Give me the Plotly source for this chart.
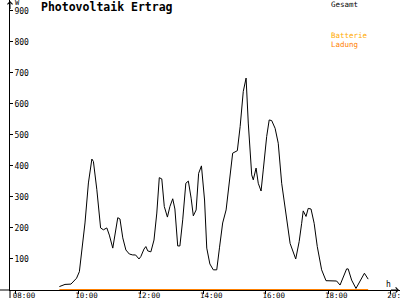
import plotly.graph_objects as go

# ---- data ----
times = [9.39, 9.57, 9.76, 9.94, 10.03, 10.10, 10.21, 10.32, 10.43, 10.48, 10.59, 10.71, 10.80, 10.91, 10.99,
         11.10, 11.18, 11.26, 11.33, 11.42, 11.52, 11.63, 11.74, 11.83, 11.94, 12.00, 12.10, 12.16, 12.22, 12.32,
         12.42, 12.51, 12.59, 12.67, 12.75, 12.85, 12.93, 13.02, 13.09, 13.18, 13.25, 13.34, 13.44, 13.52, 13.61,
         13.68, 13.77, 13.85, 13.94, 14.00, 14.04, 14.11, 14.21, 14.32, 14.43, 14.52, 14.62, 14.73, 14.83, 14.94,
         15.09, 15.18, 15.28, 15.37, 15.44, 15.55, 15.60, 15.69, 15.76, 15.85, 15.92, 16.03, 16.11, 16.19, 16.30,
         16.40, 16.51, 16.65, 16.78, 16.96, 17.07, 17.15, 17.20, 17.29, 17.36, 17.45, 17.55, 17.65, 17.79, 17.93,
         18.11, 18.27, 18.38, 18.48, 18.59, 18.64, 18.75, 18.89, 19.02, 19.16, 19.28]
gesamt = [11, 18, 19, 38, 59, 119, 216, 345, 422, 414, 323, 200, 194, 200, 177,
          135, 184, 233, 229, 168, 129, 116, 113, 113, 100, 108, 132, 140, 126, 123,
          161, 248, 362, 358, 269, 235, 269, 294, 261, 142, 142, 226, 344, 351, 296,
          239, 258, 376, 400, 345, 290, 135, 84, 65, 65, 138, 216, 258, 344, 441,
          449, 527, 640, 683, 538, 371, 355, 393, 344, 319, 387, 495, 548, 546, 521,
          473, 344, 237, 150, 100, 156, 215, 255, 237, 263, 261, 215, 140, 65, 30,
          29, 29, 16, 38, 68, 68, 32, 5, 27, 54, 35]
ladung_times = [9.39, 19.28]
ladung = [0, 0]

x_tickvals = [8, 10, 12, 14, 16, 18, 20]
x_ticktext = ["08:00", "10:00", "12:00", "14:00", "16:00", "18:00", "20:00"]
y_tickvals = [100, 200, 300, 400, 500, 600, 700, 800, 900]

title_text = "Photovoltaik Ertrag"
legend_labels = ["Gesamt", "Batterie", "Ladung"]

# ---- figure ----
MONO = "DejaVu Sans Mono"
BLACK = "#000000"
ORANGE_B = "#ffaa00"
ORANGE_L = "#ff8000"

fig = go.Figure()
fig.add_trace(go.Scatter(x=times, y=gesamt, mode="lines", name="Gesamt",
                         line=dict(color=BLACK, width=1), cliponaxis=False, showlegend=False))
fig.add_trace(go.Scatter(x=ladung_times, y=ladung, mode="lines", name="Ladung",
                         line=dict(color=ORANGE_L, width=2), cliponaxis=False, showlegend=False))

fig.update_layout(
    width=400, height=300,
    margin=dict(l=10, r=0, t=0, b=10, pad=0),
    paper_bgcolor="white", plot_bgcolor="white",
    showlegend=False,
)
fig.update_xaxes(
    range=[7.808, 20.30], tickvals=x_tickvals, ticktext=x_ticktext,
    showgrid=False, zeroline=False, showline=True, linecolor=BLACK, linewidth=1,
    ticks="outside", ticklen=3, tickcolor=BLACK, tickwidth=1,
    tickfont=dict(family=MONO, size=7.5, color=BLACK),
    ticklabelshift=8, ticklabelstandoff=-5, ticklabeloverflow="allow",
    layer="below traces", automargin=False,
)
fig.update_yaxes(
    range=[0, 934.6], tickvals=y_tickvals,
    showgrid=False, zeroline=False, showline=True, linecolor=BLACK, linewidth=1,
    ticks="inside", ticklen=3, tickcolor=BLACK, tickwidth=1,
    ticklabelposition="inside", ticklabeloverflow="allow",
    tickfont=dict(family=MONO, size=8, color=BLACK),
    layer="below traces", automargin=False,
)

def px_x(px):
    return (px - 10) / 390.0

def px_y(py):
    return (290 - py) / 290.0

annotations = [
    dict(text=title_text, x=px_x(39), y=px_y(7.5), xref="paper", yref="paper",
         xanchor="left", yanchor="middle", showarrow=False,
         font=dict(family=MONO, size=11.5, color=BLACK, weight="bold")),
    dict(text=legend_labels[0], x=px_x(329), y=px_y(4.5), xref="paper", yref="paper",
         xanchor="left", yanchor="middle", showarrow=False,
         font=dict(family=MONO, size=7.5, color=BLACK)),
    dict(text=legend_labels[1], x=px_x(329), y=px_y(35.5), xref="paper", yref="paper",
         xanchor="left", yanchor="middle", showarrow=False,
         font=dict(family=MONO, size=7.5, color=ORANGE_B)),
    dict(text=legend_labels[2], x=px_x(329), y=px_y(44.5), xref="paper", yref="paper",
         xanchor="left", yanchor="middle", showarrow=False,
         font=dict(family=MONO, size=7.5, color=ORANGE_L)),
    dict(text="W", x=px_x(13), y=px_y(3), xref="paper", yref="paper",
         xanchor="left", yanchor="middle", showarrow=False,
         font=dict(family=MONO, size=7, color=BLACK)),
    dict(text="h", x=px_x(384), y=px_y(284), xref="paper", yref="paper",
         xanchor="left", yanchor="middle", showarrow=False,
         font=dict(family=MONO, size=8, color=BLACK)),
    # axis arrows
    dict(text="", x=0, y=px_y(0.5), xref="paper", yref="paper", showarrow=True,
         ax=0, ay=10, arrowhead=4, arrowsize=1, arrowwidth=1, arrowcolor=BLACK),
    dict(text="", x=px_x(399.5), y=0, xref="paper", yref="paper", showarrow=True,
         ax=-10, ay=0, arrowhead=4, arrowsize=1, arrowwidth=1, arrowcolor=BLACK),
]
fig.update_layout(annotations=annotations)

fig.update_layout(shapes=[
    dict(type="line", xref="paper", yref="paper", x0=px_x(0), x1=0, y0=0, y1=0,
         line=dict(color=BLACK, width=1), layer="below"),
    dict(type="line", xref="paper", yref="paper", x0=0, x1=0, y0=0, y1=px_y(298),
         line=dict(color=BLACK, width=1), layer="below"),
])

fig.write_html("out.html")
